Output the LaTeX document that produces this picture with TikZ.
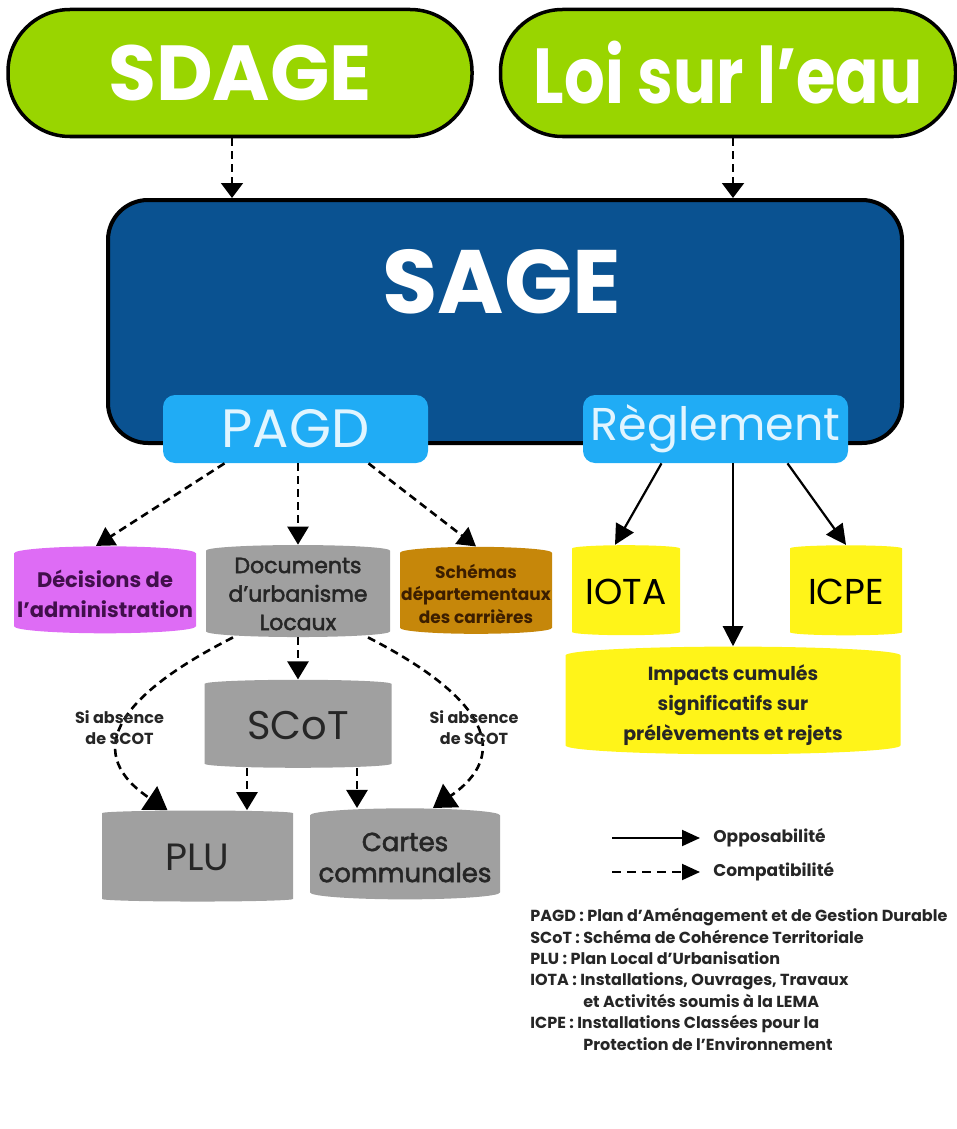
\documentclass[tikz,border=0pt]{standalone}
\usepackage{graphicx}
\usepackage{fontspec}
\setmainfont{Poppins}
\newfontfamily\medfont[Ligatures=TeX,FakeBold=2.2]{Poppins}
\usetikzlibrary{arrows.meta,shapes.geometric}

\definecolor{lawgreen}{RGB}{153,213,0}
\definecolor{sageblue}{RGB}{10,82,145}
\definecolor{skyblue}{RGB}{32,172,245}
\definecolor{paleblue}{RGB}{225,245,255}
\definecolor{lilac}{RGB}{222,108,245}
\definecolor{plum}{RGB}{65,15,75}
\definecolor{docgray}{RGB}{160,160,160}
\definecolor{ochre}{RGB}{198,135,10}
\definecolor{umber}{RGB}{60,30,0}
\definecolor{lemon}{RGB}{255,244,25}

\tikzset{every picture/.style={line width=0.75pt}}
\tikzset{
	law/.style={draw=black, line width=3.5, fill=lawgreen, rounded corners=62, minimum height=127, text=white, font=\bfseries\fontsize{78}{80}\selectfont},
	part/.style={fill=skyblue, rounded corners=12, minimum height=68, inner sep=0, text=paleblue},
	barrel/.style={cylinder, shape border rotate=90, aspect=0.08, draw=none, align=center, inner sep=0},
	compat/.style={line width=2.6, dash pattern=on 8 off 5, -{Triangle[length=18,width=21]}},
	oppos/.style={line width=2.2, -{Triangle[length=20,width=20]}},
	absence/.style={align=center, inner sep=0, font=\bfseries\fontsize{16}{21}\selectfont, text=black!85},
	legend/.style={anchor=west, inner sep=0, font=\bfseries\fontsize{17}{17}\selectfont, text=black!85}
}

\begin{document}
\begin{tikzpicture}[x=1pt,y=1pt,yscale=-1,xscale=1]
	\useasboundingbox (0,0) rectangle (957,1129);

	%Shape: SDAGE and Loi sur l'eau
	\node (sdage) [law, minimum width=464] at (240,73) {SDAGE};
	\node (loi) [law, minimum width=455] at (728,73) {\scalebox{0.82}[1]{Loi sur l'eau}};

	%Shape: SAGE
	\node (sage) [draw=black, line width=4, fill=sageblue, rounded corners=40, minimum width=794, minimum height=243] at (505,321.5) {};
	% Text Node
	\node (sagetitle) [text=white, font=\bfseries\fontsize{90}{90}\selectfont] at (502,282) {SAGE};

	%Shape: PAGD and Reglement
	\node (pagd) [part, minimum width=265, font=\fontsize{54}{54}\selectfont] at (295.5,429) {PAGD};
	\node (regl) [part, minimum width=265, font=\fontsize{46}{46}\selectfont] at (715.5,429) {Règlement};

	%Shape: documents
	\node (decis) [barrel, fill=lilac, text=plum, minimum width=182, minimum height=87, font=\bfseries\fontsize{21}{30}\selectfont] at (105,593.5) {Décisions de\\l'administration};
	\node (docs) [barrel, fill=docgray, text=black!85, minimum width=184, minimum height=92, font=\medfont\fontsize{22}{28.5}\selectfont] at (298,594) {Documents\\d'urbanisme\\Locaux};
	\node (schem) [barrel, fill=ochre, text=umber, minimum width=152, minimum height=87, font=\bfseries\fontsize{17}{22.5}\selectfont] at (476,593.5) {Schémas\\départementaux\\des carrières};
	\node (iota) [barrel, fill=lemon, text=black, minimum width=108, minimum height=90, font=\fontsize{36}{36}\selectfont] at (626,592) {IOTA};
	\node (icpe) [barrel, fill=lemon, text=black, minimum width=112, minimum height=90, font=\fontsize{36}{36}\selectfont] at (846,592) {ICPE};
	\node (impact) [barrel, fill=lemon, text=black!85, minimum width=335, minimum height=86, font=\bfseries\fontsize{19}{30}\selectfont] at (733,705) {Impacts cumulés\\significatifs sur\\prélèvements et rejets};
	\node (scot) [barrel, fill=docgray, text=black!85, minimum width=187, minimum height=88, font=\fontsize{40}{40}\selectfont] at (298,726) {SCoT};
	\node (plu) [barrel, fill=docgray, text=black!85, minimum width=191, minimum height=91, font=\fontsize{38}{38}\selectfont] at (197.5,857.5) {PLU};
	\node (cartes) [barrel, fill=docgray, text=black!85, minimum width=190, minimum height=91, font=\medfont\fontsize{26}{31}\selectfont] at (405,857.5) {Cartes\\communales};

	%Straight Lines: compatibilite
	\draw [compat, line width=2, -{Triangle[length=15,width=22]}] ([xshift=-8]sdage.south) -- ([xshift=-8]sdage.south |- sage.north);
	\draw [compat, line width=2, -{Triangle[length=15,width=22]}] ([xshift=5]loi.south) -- ([xshift=5]loi.south |- sage.north);
	\draw [compat] ([xshift=-71]pagd.south) -- ([xshift=-9]decis.north);
	\draw [compat] (pagd.south -| docs.north) -- (docs.north);
	\draw [compat] ([xshift=73]pagd.south) -- (schem.north);
	\draw [compat] (docs.south) -- (scot.north);
	\draw [compat] ([xshift=-51]scot.south) -- ([xshift=-51]scot.south |- plu.north);
	\draw [compat] ([xshift=59]scot.south) -- ([xshift=59]scot.south |- cartes.north);
	%Curve Lines
	\draw [compat, -{Triangle[length=22,width=28]}] ([xshift=-65]docs.south) .. controls (110,700) and (85,755) .. ([xshift=-30]plu.north);
	\draw [compat, -{Triangle[length=22,width=28]}] ([xshift=70]docs.south) .. controls (490,700) and (510,755) .. ([xshift=28]cartes.north);
	% Text Node
	\node (absleft) [absence] at (119.5,728) {Si absence\\de SCOT};
	% Text Node
	\node (absright) [absence] at (474,728) {Si absence\\de SCOT};

	%Straight Lines: opposabilite
	\draw [oppos] ([xshift=-54]regl.south) -- ([xshift=-11]iota.north);
	\draw [oppos] (regl.south -| impact.north) -- (impact.north);
	\draw [oppos] ([xshift=72]regl.south) -- (icpe.north);

	%Legend
	\coordinate (oppstart) at (612,838);
	\node (opp) [legend] at (713,838) {Opposabilité};
	\draw [oppos, line width=2, -{Triangle[length=18,width=16]}] (oppstart) -- ([xshift=-13]opp.west);
	\coordinate (compstart) at (612,872);
	\node (comp) [legend] at (713,872) {Compatibilité};
	\draw [compat, line width=2, dash pattern=on 9 off 6, -{Triangle[length=18,width=16]}] (compstart) -- ([xshift=-13]comp.west);

	% Text Node
	\node (abbr) [anchor=north west, align=left, inner sep=0, text=black!85, font=\bfseries\fontsize{16}{21.4}\selectfont] at (530,908) {PAGD : Plan d'Aménagement et de Gestion Durable\\SCoT : Schéma de Cohérence Territoriale\\PLU : Plan Local d'Urbanisation\\IOTA : Installations, Ouvrages, Travaux\\\hspace*{53pt}et Activités soumis à la LEMA\\ICPE : Installations Classées pour la\\\hspace*{53pt}Protection de l'Environnement};

\end{tikzpicture}
\end{document}
